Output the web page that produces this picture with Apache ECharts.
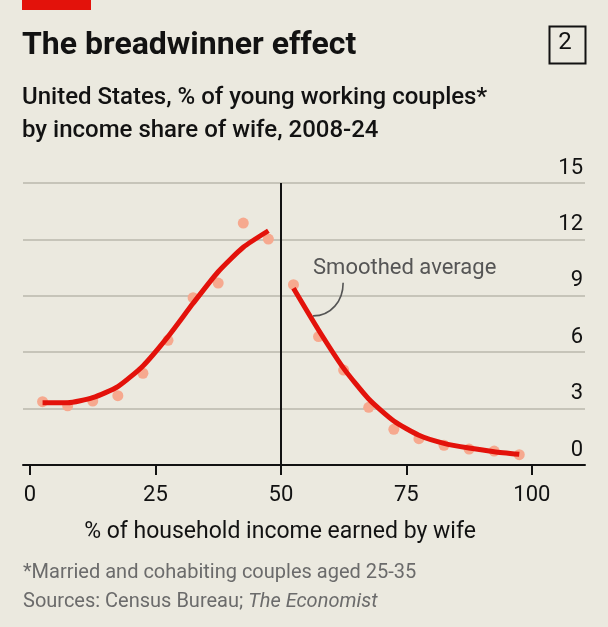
<!DOCTYPE html>
<html>
<head>
<meta charset="utf-8">
<script src="https://cdn.jsdelivr.net/npm/echarts@6/dist/echarts.min.js"></script>
<style>
html,body{margin:0;padding:0;background:#ebe9df;}
#c{width:608px;height:627px;}
</style>
</head>
<body>
<div id="c"></div>
<script>
// Data
const xValues = [2.5,7.5,12.5,17.5,22.5,27.5,32.5,37.5,42.5,47.5,52.5,57.5,62.5,67.5,72.5,77.5,82.5,87.5,92.5,97.5];
const observed = [3.37,3.15,3.40,3.69,4.88,6.63,8.90,9.68,12.87,12.02,9.59,6.83,5.05,3.07,1.90,1.40,1.05,0.85,0.74,0.55];
const smoothLeftX = [2.5,7.5,12.5,17.5,22.5,27.5,32.5,37.5,42.5,47.5];
const smoothLeft = [3.31,3.31,3.58,4.17,5.27,6.83,8.60,10.28,11.58,12.46];
const smoothRightX = [52.5,57.5,62.5,67.5,72.5,77.5,82.5,87.5,92.5,97.5];
const smoothRight = [9.40,7.18,5.14,3.51,2.34,1.58,1.15,0.90,0.71,0.57];
const xTicks = [0,25,50,75,100];
const yTicks = [0,3,6,9,12,15];

const FONT = 'Roboto';
const chart = echarts.init(document.getElementById('c'), null, {renderer:'canvas'});

const option = {
  backgroundColor: '#ebe9df',
  animation: false,
  title: [
    {text: 'The breadwinner effect', left: 22, top: 30, padding: 0,
     textStyle: {fontFamily: FONT, fontWeight: 'bold', fontSize: 32, color: '#121212'}},
    {text: 'United States, % of young working couples*\nby income share of wife, 2008-24', left: 22, top: 81, padding: 0,
     textStyle: {fontFamily: FONT, fontWeight: 500, fontSize: 24, lineHeight: 33, color: '#121212'}},
    {text: '% of household income earned by wife', left: 280, textAlign: 'center', top: 521, padding: 0,
     textStyle: {fontFamily: FONT, fontWeight: 'normal', fontSize: 23, color: '#121212'}},
    {text: '*Married and cohabiting couples aged 25-35', left: 23, top: 563, padding: 0,
     textStyle: {fontFamily: FONT, fontWeight: 'normal', fontSize: 20, color: '#6b6b6b'}},
    {text: '{n|Sources: Census Bureau; }{i|The Economist}', left: 23, top: 592, padding: 0,
     textStyle: {fontWeight: 'normal', rich: {
       n: {fontFamily: FONT, fontSize: 20, fontWeight: 'normal', color: '#6b6b6b'},
       i: {fontFamily: FONT, fontSize: 20, fontWeight: 'normal', fontStyle: 'italic', color: '#6b6b6b'}
     }}}
  ],
  grid: {left: 23, right: 23, top: 183, bottom: 162, containLabel: false},
  xAxis: {
    type: 'value', min: -1.4, max: 110.6,
    axisLine: {show: true, lineStyle: {color: '#121212', width: 2}},
    axisTick: {show: true, customValues: xTicks, length: 10, lineStyle: {color: '#121212', width: 2}},
    axisLabel: {show: true, customValues: xTicks, margin: 19, fontFamily: FONT, fontSize: 22, color: '#121212'},
    splitLine: {show: false}
  },
  yAxis: {
    type: 'value', min: 0, max: 15, interval: 3, position: 'right',
    axisLine: {show: false}, axisTick: {show: false},
    axisLabel: {inside: true, margin: 2, align: 'right', verticalAlign: 'bottom', padding: [0,0,4,0],
      fontFamily: FONT, fontSize: 22, color: '#121212',
      showMinLabel: true, showMaxLabel: true},
    splitLine: {show: true, lineStyle: {color: '#c6c4b9', width: 2}}
  },
  series: [
    {type: 'scatter', data: xValues.map((x,i)=>[x, observed[i]]), symbolSize: 11,
     itemStyle: {color: '#f6a98f', opacity: 1}, z: 2,
     markLine: {silent: true, symbol: 'none', label: {show: false},
       lineStyle: {color: '#121212', width: 2, type: 'solid'},
       data: [{xAxis: 50}]}},
    {type: 'line', data: smoothLeftX.map((x,i)=>[x, smoothLeft[i]]), showSymbol: false, smooth: 0.2,
     lineStyle: {color: '#e3120b', width: 5}, z: 3},
    {type: 'line', data: smoothRightX.map((x,i)=>[x, smoothRight[i]]), showSymbol: false, smooth: 0.2,
     lineStyle: {color: '#e3120b', width: 5}, z: 3}
  ]
};
chart.setOption(option);

// Annotation, positioned in data coordinates
const annoText = [56.4, 10.05];
const leadStart = [62.4, 9.7];
const leadEnd = [56.4, 7.93];
const p = v => chart.convertToPixel({gridIndex: 0}, v);
const t = p(annoText), s = p(leadStart), e = p(leadEnd);
chart.setOption({
  graphic: [
    {type: 'rect', left: 22, top: 0, shape: {width: 69, height: 10}, style: {fill: '#e3120b'}},
    {type: 'rect', left: 547, top: 24, shape: {width: 36, height: 37}, style: {fill: 'none', stroke: '#121212', lineWidth: 2}},
    {type: 'text', x: 565, y: 43, style: {text: '2', fontFamily: FONT, fontSize: 24, fill: '#121212', align: 'center', verticalAlign: 'middle'}},
    {type: 'text', x: t[0], y: t[1] + 3, style: {text: 'Smoothed average', fontFamily: FONT, fontSize: 22, fill: '#555555', align: 'left', verticalAlign: 'bottom'}},
    {type: 'bezierCurve', shape: {x1: s[0], y1: s[1], cpx1: s[0], cpy1: s[1] + (e[1]-s[1])*0.55, cpx2: s[0] - (s[0]-e[0])*0.4, cpy2: e[1], x2: e[0], y2: e[1]},
     style: {stroke: '#555555', lineWidth: 1.6, fill: 'none'}, z: 10}
  ]
});
</script>
</body>
</html>
